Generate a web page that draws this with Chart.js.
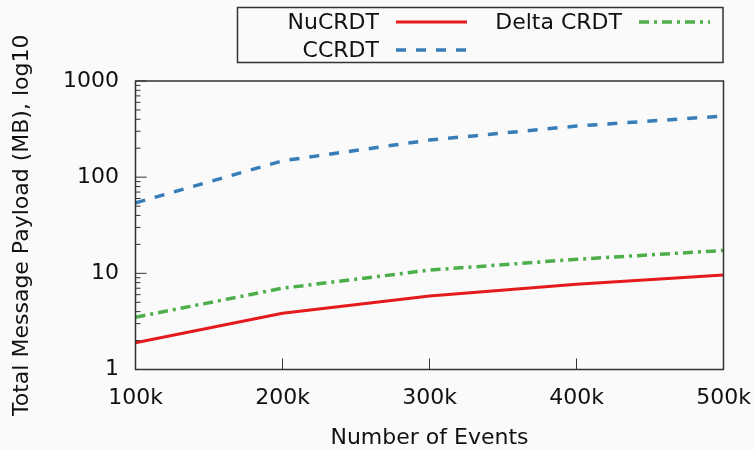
<!DOCTYPE html>
<html>
<head>
<meta charset="utf-8">
<script src="https://cdn.jsdelivr.net/npm/chart.js@4"></script>
<style>
  html, body { margin: 0; padding: 0; background: #fafafa; }
  #wrap { width: 755px; height: 450px; }
</style>
</head>
<body>
<div id="wrap"><canvas id="payloadChart" width="755" height="450"></canvas></div>
<script>
const events = [100000, 200000, 300000, 400000, 500000];
const eventLabels = ['100k', '200k', '300k', '400k', '500k'];
const yTicks = [1, 10, 100, 1000];
const yTickLabels = ['1', '10', '100', '1000'];

const nucrdt = [1.9, 3.85, 5.8, 7.7, 9.6];
const ccrdt = [54, 148, 243, 340, 432];
const deltaCrdt = [3.5, 7.0, 10.8, 14.0, 17.3];

const FONT = 'DejaVu Sans';
const frameColor = '#333333';

const toPoints = (vals) => vals.map((v, i) => ({ x: events[i], y: v }));

// frame, inward ticks and legend, drawn the gnuplot way
const gnuplotLook = {
    id: 'gnuplotLook',
    beforeDraw(chart) {
        const ctx = chart.ctx;
        ctx.save();
        ctx.fillStyle = '#fafafa';
        ctx.fillRect(0, 0, chart.width, chart.height);
        ctx.restore();
    },
    afterDraw(chart) {
        const ctx = chart.ctx;
        const area = chart.chartArea;
        const xs = chart.scales.x;
        const ys = chart.scales.y;
        ctx.save();
        ctx.strokeStyle = frameColor;
        ctx.lineWidth = 1.5;
        ctx.setLineDash([]);
        ctx.strokeRect(area.left, area.top, area.right - area.left, area.bottom - area.top);

        // y ticks: major + minor, pointing inward
        ctx.lineWidth = 1;
        ctx.beginPath();
        for (let d = 0; d < yTicks.length; d++) {
            const base = yTicks[d];
            const py = ys.getPixelForValue(base);
            ctx.moveTo(area.left, py);
            ctx.lineTo(area.left + 11, py);
            if (d < yTicks.length - 1) {
                for (let m = 2; m <= 9; m++) {
                    const my = ys.getPixelForValue(base * m);
                    ctx.moveTo(area.left, my);
                    ctx.lineTo(area.left + 5, my);
                }
            }
        }
        // x ticks
        events.forEach(v => {
            const px = xs.getPixelForValue(v);
            ctx.moveTo(px, area.bottom);
            ctx.lineTo(px, area.bottom - 11);
        });
        ctx.stroke();

        // legend box
        const box = { left: 237.5, top: 7.5, right: 723, bottom: 62.5 };
        ctx.lineWidth = 1.5;
        ctx.strokeStyle = frameColor;
        ctx.strokeRect(box.left, box.top, box.right - box.left, box.bottom - box.top);

        const slots = [
            { textRight: 379, x1: 396, x2: 467, y: 22 },
            { textRight: 379, x1: 396, x2: 467, y: 50 },
            { textRight: 622, x1: 639, x2: 710, y: 22 }
        ];
        ctx.font = '22px "' + FONT + '"';
        ctx.textAlign = 'right';
        ctx.textBaseline = 'middle';
        chart.data.datasets.forEach((ds, i) => {
            const s = slots[i];
            ctx.fillStyle = '#111111';
            ctx.fillText(ds.label, s.textRight, s.y + 1);
            ctx.strokeStyle = ds.borderColor;
            ctx.lineWidth = ds.borderWidth;
            ctx.setLineDash(ds.borderDash || []);
            ctx.beginPath();
            ctx.moveTo(s.x1, s.y);
            ctx.lineTo(s.x2, s.y);
            ctx.stroke();
        });
        ctx.restore();
    }
};

const ctx = document.getElementById('payloadChart').getContext('2d');

new Chart(ctx, {
    type: 'line',
    data: {
        datasets: [{
            label: 'NuCRDT',
            data: toPoints(nucrdt),
            borderColor: '#e41a1c',
            borderWidth: 3,
            pointRadius: 0,
            tension: 0
        }, {
            label: 'CCRDT',
            data: toPoints(ccrdt),
            borderColor: '#377eb8',
            borderWidth: 3.5,
            borderDash: [10, 10],
            pointRadius: 0,
            tension: 0
        }, {
            label: 'Delta CRDT',
            data: toPoints(deltaCrdt),
            borderColor: '#4daf4a',
            borderWidth: 3.5,
            borderDash: [10, 5, 3, 5],
            pointRadius: 0,
            tension: 0
        }]
    },
    options: {
        responsive: false,
        animation: false,
        layout: {
            padding: { top: 81, right: 31.5, bottom: 0, left: 0 }
        },
        plugins: {
            legend: { display: false },
            tooltip: { enabled: false }
        },
        scales: {
            x: {
                type: 'linear',
                min: 100000,
                max: 500000,
                afterBuildTicks: (scale) => {
                    scale.ticks = events.map(v => ({ value: v }));
                },
                afterFit: (scale) => {
                    scale.height = 80.5;
                    scale.paddingLeft = 0;
                    scale.paddingRight = 0;
                },
                grid: { display: false, drawTicks: false },
                border: { display: false },
                ticks: {
                    padding: 16,
                    color: '#111111',
                    maxRotation: 0,
                    autoSkip: false,
                    font: { family: FONT, size: 22 },
                    callback: (v) => eventLabels[events.indexOf(v)]
                },
                title: {
                    display: true,
                    text: 'Number of Events',
                    color: '#111111',
                    padding: { top: 0, bottom: -1.5 },
                    font: { family: FONT, size: 22 }
                }
            },
            y: {
                type: 'logarithmic',
                min: 1,
                max: 1000,
                afterBuildTicks: (scale) => {
                    scale.ticks = yTicks.map(v => ({ value: v }));
                },
                afterFit: (scale) => {
                    scale.width = 135.5;
                    scale.paddingTop = 0;
                    scale.paddingBottom = 0;
                },
                grid: { display: false, drawTicks: false },
                border: { display: false },
                ticks: {
                    padding: 16.5,
                    color: '#111111',
                    autoSkip: false,
                    font: { family: FONT, size: 22 },
                    callback: (v) => yTickLabels[yTicks.indexOf(v)]
                },
                title: {
                    display: true,
                    text: 'Total Message Payload (MB), log10',
                    color: '#111111',
                    padding: { top: 9, bottom: 0 },
                    font: { family: FONT, size: 22 }
                }
            }
        }
    },
    plugins: [gnuplotLook]
});
</script>
</body>
</html>
